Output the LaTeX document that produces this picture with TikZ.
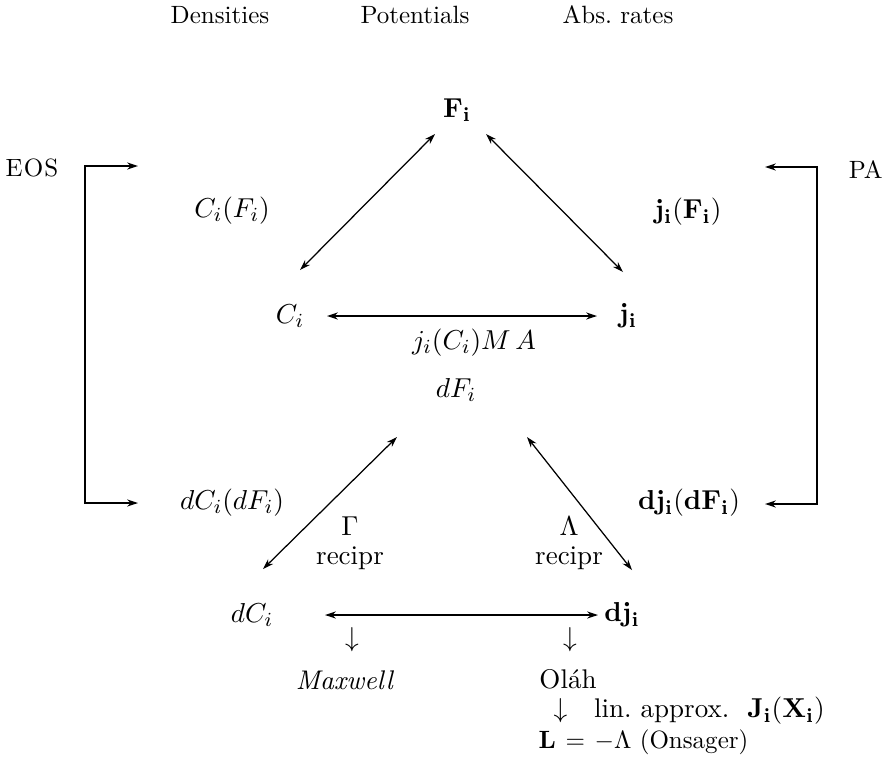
\documentclass[tikz,border=0pt]{standalone}
\usepackage{amsmath}
\usetikzlibrary{arrows.meta}
\begin{document}
\begin{tikzpicture}[x=0.4pt,y=-0.4pt,
  lbl/.style={inner sep=0pt,font=\fontsize{10.8}{13}\selectfont},
  hdr/.style={inner sep=0pt,font=\fontsize{10}{12}\selectfont},
  arr/.style={line width=0.5pt,{Stealth[length=4.3pt,width=2.8pt]}-{Stealth[length=4.3pt,width=2.8pt]}}]
\useasboundingbox (0,0) rectangle (885,782);
% headers
\node[hdr] (hD) at (220,15) {Densities};
\node[hdr] (hP) at (415,15) {Potentials};
\node[hdr] (hA) at (618,15) {Abs.\ rates};
% top triangle
\node[lbl] (F) at (457,110) {$\mathbf{F_i}$};
\node[lbl] (CF) at (232,211) {$C_i(F_i)$};
\node[lbl] (jF) at (688,212) {$\mathbf{j_i(F_i)}$};
\node[lbl] (Ci) at (290,316) {$C_i$};
\node[lbl] (ji) at (628,316) {$\mathbf{j_i}$};
\node[lbl] (MA) at (474,343) {$j_i(C_i)M\,A$};
% bottom triangle
\node[lbl] (dF) at (456,390) {$dF_i$};
\node[lbl] (dCF) at (232,503) {$dC_i(dF_i)$};
\node[lbl] (djF) at (689,503) {$\mathbf{dj_i(dF_i)}$};
\node[lbl] (G) at (350,526) {$\Gamma$};
\node[lbl] (Gr) at (350,558) {recipr};
\node[lbl] (L) at (569,526) {$\Lambda$};
\node[lbl] (Lr) at (569,558) {recipr};
\node[lbl] (dCi) at (252,615) {$dC_i$};
\node[lbl] (dji) at (622,615) {$\mathbf{dj_i}$};
\node[lbl] (d1) at (352,640) {$\downarrow$};
\node[lbl] (d2) at (570,640) {$\downarrow$};
\node[lbl] (Mx) at (345,680) {\textit{Maxwell}};
\node[lbl] (Ol) at (568,679) {Ol\'ah};
\node[lbl,anchor=west] (lin) at (553,711) {$\downarrow$\quad lin.\ approx.\ \ $\mathbf{J_i(X_i)}$};
\node[hdr,anchor=west] (Ons) at (538,742) {$\mathbf{L}\mskip2mu=\mskip2mu-\Lambda$\ (Onsager)};
% side labels
\node[hdr,anchor=west] (EOS) at (5,168) {E\kern0.5ptO\kern0.5ptS};
\node[hdr,anchor=east] (PA) at (883,170) {PA};
% connectors
\draw[arr] ([shift={(-22,24)}]F.center) -- ([shift={(10,-46)}]Ci.center);
\draw[arr] ([shift={(29,24)}]F.center) -- ([shift={(-5,-44)}]ji.center);
\draw[arr] ([shift={(37,0)}]Ci.center) -- ([shift={(-31,0)}]ji.center);
\draw[arr] ([shift={(-59,47)}]dF.center) -- ([shift={(11,-46)}]dCi.center);
\draw[arr] ([shift={(71,47)}]dF.center) -- ([shift={(10,-45)}]dji.center);
\draw[arr] ([shift={(73,0)}]dCi.center) -- ([shift={(-24,0)}]dji.center);
% brackets
\coordinate (e1) at (138,166);
\coordinate (e2) at (138,503);
\coordinate (p1) at (765,167);
\coordinate (p2) at (765,504);
\draw[arr] (e1) -- ++(-53,0) |- (e2);
\draw[arr] (p1) -- ++(52,0) |- (p2);
\end{tikzpicture}
\end{document}
